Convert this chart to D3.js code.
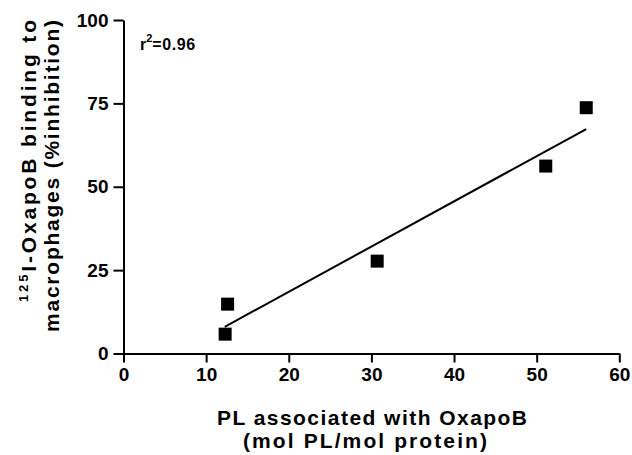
<!DOCTYPE html>
<html><head><meta charset="utf-8">
<script src="https://cdn.jsdelivr.net/npm/d3@7"></script>
<style>body{margin:0;background:#fff}svg{display:block}text{font-family:"Liberation Sans",Arial,sans-serif;font-weight:bold;fill:#000}</style>
</head><body><svg id="c" width="632" height="455"></svg>
<script>
const plX = [12.3, 12.6, 30.7, 51.1, 56.0];
const inhibition = [5.8, 14.8, 27.7, 56.2, 73.7];
const fitX = [12.25, 56.0];
const fitY = [8.0, 67.3];
const xTicks = [0, 10, 20, 30, 40, 50, 60];
const yTicks = [0, 25, 50, 75, 100];

const svg = d3.select("#c");
const x = d3.scaleLinear().domain([0, 60]).range([123.5, 619.3]);
const y = d3.scaleLinear().domain([0, 100]).range([353.5, 20]);

const xa = svg.append("g").attr("transform", "translate(0,353.5)")
  .call(d3.axisBottom(x).tickValues(xTicks).tickSize(9).tickSizeOuter(0).tickPadding(5).tickFormat(d3.format("d")));
const ya = svg.append("g").attr("transform", "translate(123.5,0)")
  .call(d3.axisLeft(y).tickValues(yTicks).tickSize(10).tickSizeOuter(0).tickPadding(5).tickFormat(d3.format("d")));
[xa, ya].forEach(g => {
  g.select(".domain").attr("stroke", "#000").attr("stroke-width", 2);
  g.selectAll(".tick line").attr("stroke", "#000").attr("stroke-width", 2);
  g.selectAll(".tick text").attr("font-size", 19).attr("font-family", "Liberation Sans, Arial, sans-serif").attr("font-weight", "bold").attr("fill", "#000");
});

svg.append("line")
  .attr("x1", x(fitX[0])).attr("y1", y(fitY[0]))
  .attr("x2", x(fitX[1])).attr("y2", y(fitY[1]))
  .attr("stroke", "#000").attr("stroke-width", 2);

const s = 13;
svg.selectAll("rect.pt").data(plX).enter().append("rect").attr("class", "pt")
  .attr("x", (d) => x(d) - s / 2)
  .attr("y", (d, i) => y(inhibition[i]) - s / 2)
  .attr("width", s).attr("height", s).attr("fill", "#000");

const r = svg.append("text").attr("x", 140).attr("y", 50).attr("font-size", 16);
r.append("tspan").text("r");
r.append("tspan").attr("dy", -8).attr("font-size", 11).text("2");
r.append("tspan").attr("dy", 8).attr("letter-spacing", 0.6).text("=0.96");

svg.append("text").attr("x", 217).attr("y", 425).attr("font-size", 21)
  .attr("textLength", 310).attr("lengthAdjust", "spacing")
  .text("PL associated with OxapoB");
svg.append("text").attr("x", 243).attr("y", 448).attr("font-size", 21)
  .attr("textLength", 244).attr("lengthAdjust", "spacing")
  .text("(mol PL/mol protein)");

const yl = svg.append("g").attr("transform", "rotate(-90)");
const l1 = yl.append("text").attr("x", -302).attr("y", 36).attr("font-size", 21)
  .attr("textLength", 282).attr("lengthAdjust", "spacing");
l1.append("tspan").attr("font-size", 13).attr("dy", -8).text("125");
l1.append("tspan").attr("dy", 8).text("I-OxapoB binding to");
yl.append("text").attr("x", -332).attr("y", 59).attr("font-size", 21)
  .attr("textLength", 312).attr("lengthAdjust", "spacing")
  .text("macrophages (%inhibition)");
</script></body></html>
